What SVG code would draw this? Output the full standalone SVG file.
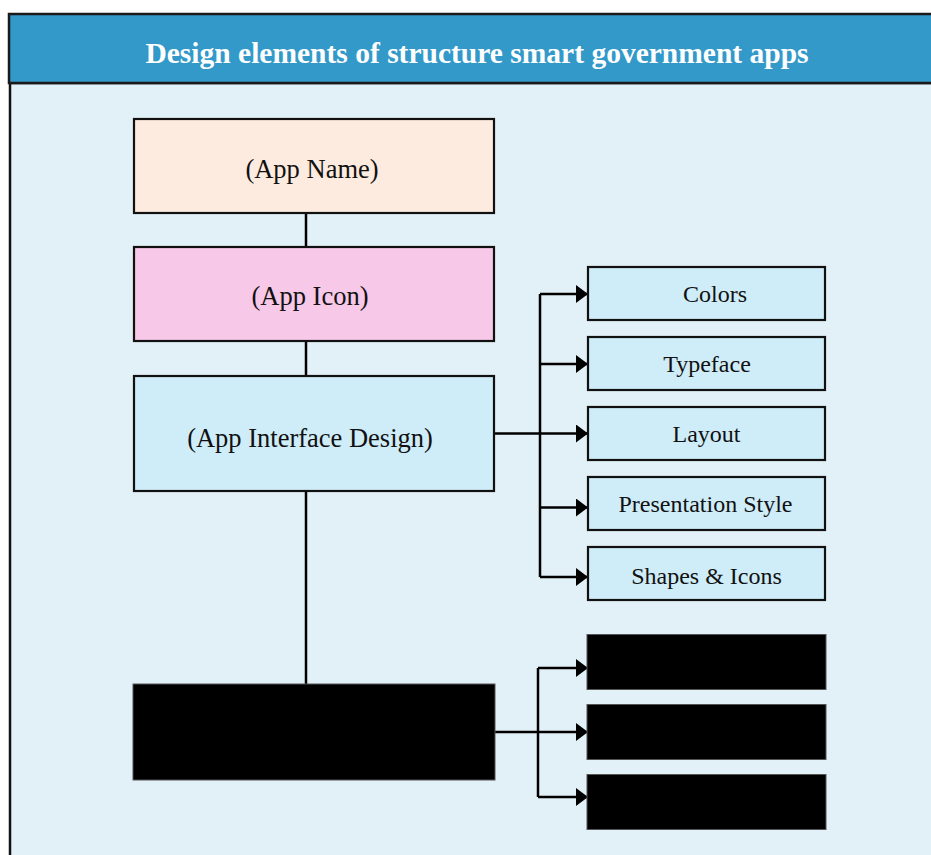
<svg xmlns="http://www.w3.org/2000/svg" width="931" height="855" viewBox="0 0 931 855">
  <defs>
    <marker id="arr" markerUnits="userSpaceOnUse" markerWidth="12" markerHeight="18" refX="12" refY="9" orient="auto">
      <path d="M0,0 L12,9 L0,18 Z" fill="#000"/>
    </marker>
    <style>
      .box { stroke: #111; stroke-width: 2.2; }
      .blk { fill: #000; stroke: #555; stroke-width: 1; }
      .lbl { font-family: "Liberation Serif", "DejaVu Serif", serif; font-size: 26.5px; fill: #111; text-anchor: middle; }
      .sub { font-family: "Liberation Serif", "DejaVu Serif", serif; font-size: 24px; fill: #111; text-anchor: middle; }
      .conn path { fill: none; stroke: #000; stroke-width: 2.5; }
      .conn path.arw { marker-end: url(#arr); }
    </style>
  </defs>
  <rect x="0" y="0" width="931" height="855" fill="#ffffff"/>
  <g id="frame">
    <rect x="10" y="83" width="930" height="780" fill="#E2F0F7" stroke="#111" stroke-width="2.5"/>
    <rect x="9" y="14" width="930" height="69" fill="#3399C9" stroke="#1a1a1a" stroke-width="2.5"/>
    <text x="477" y="63" font-family="Liberation Serif, DejaVu Serif, serif" font-size="29.5" font-weight="bold" fill="#ffffff" text-anchor="middle">Design elements of structure smart government apps</text>
  </g>
  <g class="conn" id="connectors">
    <path d="M306,213 V247"/>
    <path d="M306,341 V376"/>
    <path d="M306,491 V684"/>
    <path class="arw" d="M495,433.5 H588"/>
    <path d="M540,294 V577"/>
    <path class="arw" d="M540,294 H588"/>
    <path class="arw" d="M540,364 H588"/>
    <path class="arw" d="M540,507.5 H588"/>
    <path class="arw" d="M540,577 H588"/>
    <path class="arw" d="M495,732 H588"/>
    <path d="M538,668 V797"/>
    <path class="arw" d="M538,668 H588"/>
    <path class="arw" d="M538,797 H588"/>
  </g>
  <g id="app-name">
    <rect class="box" x="134" y="119" width="360" height="94" fill="#FDEBDF"/>
    <text class="lbl" x="312" y="178">(App Name)</text>
  </g>
  <g id="app-icon">
    <rect class="box" x="134" y="247" width="360" height="94" fill="#F7C8E7"/>
    <text class="lbl" x="310" y="305">(App Icon)</text>
  </g>
  <g id="app-interface">
    <rect class="box" x="134" y="376" width="360" height="115" fill="#CFECF9"/>
    <text class="lbl" x="310" y="447">(App Interface Design)</text>
  </g>
  <g id="colors">
    <rect class="box" x="588" y="267" width="237" height="53" fill="#CFECF9"/>
    <text class="sub" x="715" y="302">Colors</text>
  </g>
  <g id="typeface">
    <rect class="box" x="588" y="337" width="237" height="53" fill="#CFECF9"/>
    <text class="sub" x="707" y="372">Typeface</text>
  </g>
  <g id="layout">
    <rect class="box" x="588" y="407" width="237" height="53" fill="#CFECF9"/>
    <text class="sub" x="706.5" y="442">Layout</text>
  </g>
  <g id="presentation-style">
    <rect class="box" x="588" y="477" width="237" height="53" fill="#CFECF9"/>
    <text class="sub" x="705.5" y="512">Presentation Style</text>
  </g>
  <g id="shapes-icons">
    <rect class="box" x="588" y="547" width="237" height="53" fill="#CFECF9"/>
    <text class="sub" x="706.5" y="584">Shapes &amp; Icons</text>
  </g>
  <g id="hidden-main">
    <rect class="blk" x="133" y="684" width="362" height="96"/>
  </g>
  <g id="hidden-1">
    <rect class="blk" x="587" y="634.5" width="239" height="55"/>
  </g>
  <g id="hidden-2">
    <rect class="blk" x="587" y="704.5" width="239" height="55"/>
  </g>
  <g id="hidden-3">
    <rect class="blk" x="587" y="774.5" width="239" height="55"/>
  </g>
</svg>
